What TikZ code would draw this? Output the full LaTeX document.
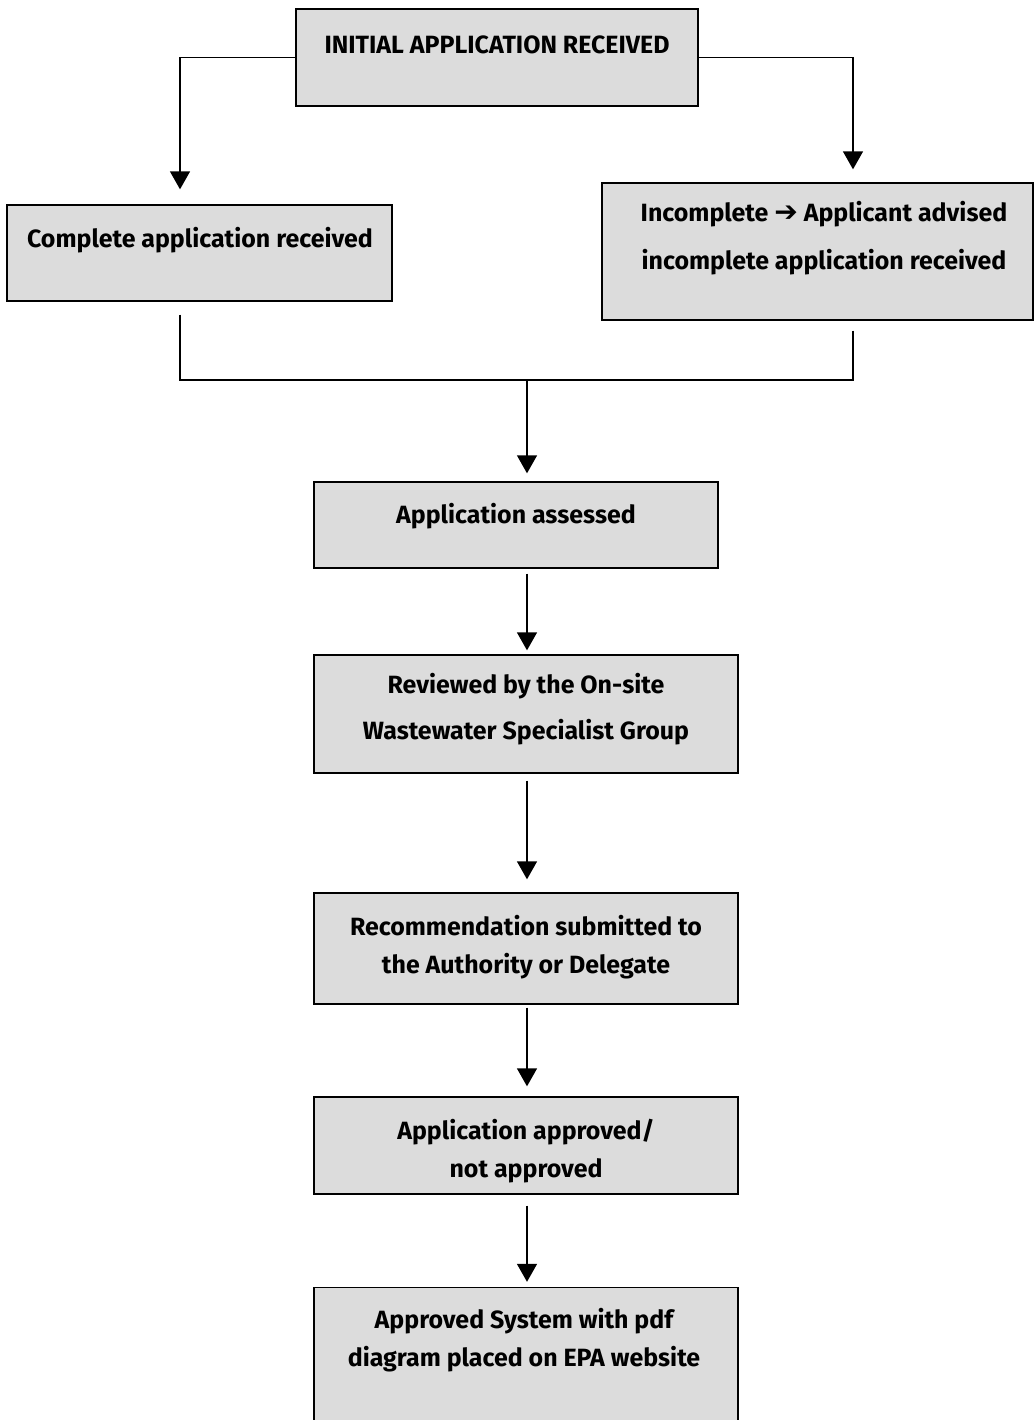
\documentclass[tikz,border=0pt]{standalone}
\usepackage{fontspec}
\setmainfont{Fira Sans}
\newfontfamily\symfont{DejaVu Sans}
\usepackage{tikz}
\usetikzlibrary{arrows.meta,positioning,calc}
\definecolor{boxgray}{RGB}{220,220,220}
\newcommand{\fsz}{14.2}

\begin{document}
\begin{tikzpicture}[
    x=0.02cm, y=-0.02cm,
    box/.style={draw, fill=boxgray, line width=0.8pt, inner sep=0pt},
    txt/.style={inner sep=0pt, align=center, font=\bfseries\fontsize{\fsz}{#1}\selectfont},
    txt/.default=17,
    line/.style={line width=0.8pt},
    arr/.style={line width=0.8pt, -{Triangle[length=0.36cm, width=0.4cm]}},
  ]
  \useasboundingbox (0,0) rectangle (1034,1420);

  % boxes
  \node[box, minimum width=8.04cm, minimum height=1.94cm] (init) at (497,57.5) {};
  \node[box, minimum width=7.70cm, minimum height=1.92cm] (compl) at (199.5,253) {};
  \node[box, minimum width=8.62cm, minimum height=2.74cm] (incompl) at (817.5,251.5) {};
  \node[box, minimum width=8.08cm, minimum height=1.72cm] (assess) at (516,525) {};
  \node[box, minimum width=8.48cm, minimum height=2.36cm] (review) at (526,714) {};
  \node[box, minimum width=8.48cm, minimum height=2.22cm] (recom) at (526,948.5) {};
  \node[box, minimum width=8.48cm, minimum height=1.94cm] (approve) at (526,1145.5) {};
  \node[box, minimum width=8.48cm, minimum height=2.90cm] (final) at (526,1360) {};

  % texts
  \node[txt] (init-t) at (497,45) {INITIAL APPLICATION RECEIVED};
  \node[txt=27.2] (incompl-t) at (824,238) {Incomplete {\symfont\bfseries\fontsize{16}{16}\selectfont ➔} Applicant advised\\incomplete application received};
  \node[txt] (compl-t) at (200,240) {Complete application received};
  \node[txt] (assess-t) at (516,516) {Application assessed};
  \node[txt=26.4] (review-t) at (526,709) {Reviewed by the On-site\\Wastewater Specialist Group};
  \node[txt=21.5] (recom-t) at (526,947) {Recommendation submitted to\\the Authority or Delegate};
  \node[txt=21.5] (approve-t) at (526,1151) {Application approved/\\not approved};
  \node[txt=21.5] (final-t) at (524,1340) {Approved System with pdf\\diagram placed on EPA website};

  % connectors
  \coordinate (merge) at (527,380);
  \draw[arr, shorten >=0.3cm] (init.west) -| ([xshift=-0.39cm]compl.north);
  \draw[arr, shorten >=0.26cm] (init.east) -| ([xshift=0.71cm]incompl.north);
  \draw[line, shorten <=0.26cm] ([xshift=-0.39cm]compl.south) |- (merge);
  \draw[line, shorten <=0.2cm] ([xshift=0.71cm]incompl.south) |- (merge);
  \draw[arr, shorten >=0.16cm] (merge) -- (assess.north -| merge);
  \draw[arr, shorten <=0.1cm, shorten >=0.08cm] (assess.south -| merge) -- (review.north -| merge);
  \draw[arr, shorten <=0.14cm, shorten >=0.26cm] (review.south -| merge) -- (recom.north -| merge);
  \draw[arr, shorten <=0.06cm, shorten >=0.2cm] (recom.south -| merge) -- (approve.north -| merge);
  \draw[arr, shorten <=0.22cm, shorten >=0.1cm] (approve.south -| merge) -- (final.north -| merge);
\end{tikzpicture}
\end{document}
